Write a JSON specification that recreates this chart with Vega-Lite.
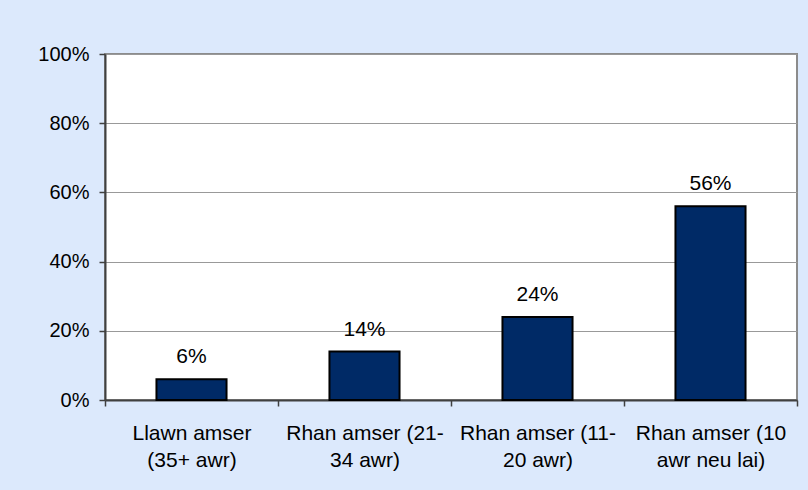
{
  "$schema": "https://vega.github.io/schema/vega-lite/v6.json",
  "width": 692,
  "height": 346,
  "autosize": {"type": "none"},
  "padding": {"left": 105, "top": 54, "right": 11, "bottom": 90},
  "background": "#dce9fc",
  "config": {
    "view": {"fill": "white", "stroke": "#8c8c8c", "strokeWidth": 2},
    "font": "Liberation Sans"
  },
  "data": {
    "values": [
      {"cat": "Llawn amser|(35+ awr)", "value": 0.06},
      {"cat": "Rhan amser (21-|34 awr)", "value": 0.14},
      {"cat": "Rhan amser (11-|20 awr)", "value": 0.24},
      {"cat": "Rhan amser (10|awr neu lai)", "value": 0.56}
    ]
  },
  "encoding": {
    "x": {
      "field": "cat",
      "type": "nominal",
      "sort": null,
      "scale": {"paddingInner": 0, "paddingOuter": 0},
      "axis": {
        "title": null,
        "labelAngle": 0,
        "labelExpr": "isValid(datum.value) ? split(datum.value, '|') : ''",
        "labelFont": "Liberation Sans",
        "labelFontSize": 21,
        "labelColor": "black",
        "labelBaseline": "alphabetic",
        "labelPadding": 33,
        "labelLineHeight": 27,
        "tickBand": "extent",
        "tickSize": 6,
        "tickColor": "#404040",
        "tickWidth": 1.5,
        "domainColor": "#404040",
        "domainWidth": 2,
        "grid": false
      }
    },
    "y": {
      "field": "value",
      "type": "quantitative",
      "scale": {"domain": [0, 1], "nice": false},
      "axis": {
        "title": null,
        "format": ".0%",
        "values": [0, 0.2, 0.4, 0.6, 0.8, 1],
        "labelFont": "Liberation Sans",
        "labelFontSize": 20,
        "labelColor": "black",
        "labelPadding": 10,
        "tickSize": 6,
        "tickColor": "#404040",
        "tickWidth": 1.5,
        "domainColor": "#404040",
        "domainWidth": 2,
        "grid": true,
        "gridColor": "#999999",
        "gridWidth": 1
      }
    }
  },
  "layer": [
    {
      "mark": {
        "type": "bar",
        "width": {"band": 0.405},
        "fill": "#002a66",
        "stroke": "black",
        "strokeWidth": 2
      }
    },
    {
      "mark": {
        "type": "text",
        "dy": -16,
        "baseline": "alphabetic",
        "fontSize": 21,
        "font": "Liberation Sans",
        "color": "black"
      },
      "encoding": {
        "text": {"field": "value", "type": "quantitative", "format": ".0%"}
      }
    }
  ]
}
